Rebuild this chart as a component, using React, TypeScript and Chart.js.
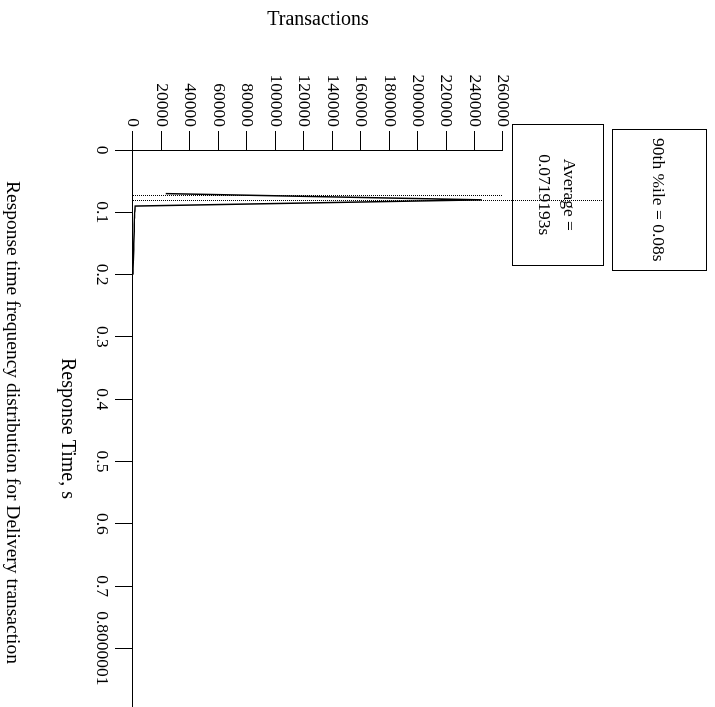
import React, { useEffect, useRef } from "react";
import { Chart, registerables } from "chart.js";

Chart.register(...registerables);

// ---- data ----
const responseTimes = [0.07, 0.08, 0.09, 0.1, 0.11, 0.12, 0.13, 0.14, 0.15, 0.16, 0.17, 0.18, 0.19, 0.2];
const transactionCounts = [23000, 245000, 1500, 1200, 1000, 900, 800, 700, 600, 500, 300, 150, 80, 30];

const xTickValues = [0, 0.1, 0.2, 0.3, 0.4, 0.5, 0.6, 0.7, 0.8];
const xTickLabels = ["0", "0.1", "0.2", "0.3", "0.4", "0.5", "0.6", "0.7", "0.8000001"];
const yTickValues = [0, 20000, 40000, 60000, 80000, 100000, 120000, 140000, 160000, 180000, 200000, 220000, 240000, 260000];
const yTickLabels = ["0", "20000", "40000", "60000", "80000", "100000", "120000", "140000", "160000", "180000", "200000", "220000", "240000", "260000"];

const averageTime = 0.0719193;
const percentile90Time = 0.08;
const averageLines = ["Average =", "0.0719193s"];
const percentileLines = ["90th %ile = 0.08s"];

const chartTitle = "Response time frequency distribution for Delivery transaction";
const xAxisTitle = "Response Time, s";
const yAxisTitle = "Transactions";

// ---- layout (unrotated canvas; it is rotated 90deg clockwise on the page) ----
const CANVAS_W = 707;
const CANVAS_H = 715;
const FAMILY = "'Liberation Serif', 'Times New Roman', serif";
const TICK_SIZE = 17.5;
const TITLE_SIZE = 20;
const MAIN_TITLE_SIZE = 19.5;

const annotationPlugin = {
  id: "rtAnnotations",
  afterDatasetsDraw(chart: any) {
    const ctx = chart.ctx;
    const xs = chart.scales.x;
    const ys = chart.scales.y;
    const top = chart.chartArea.top;
    const y0 = ys.getPixelForValue(0);
    const yMax = ys.getPixelForValue(yTickValues[yTickValues.length - 1]);

    ctx.save();
    ctx.strokeStyle = "#000";
    ctx.lineWidth = 1;
    ctx.setLineDash([1, 1]);

    const ax = Math.round(xs.getPixelForValue(averageTime)) + 0.5;
    ctx.beginPath();
    ctx.moveTo(ax, y0);
    ctx.lineTo(ax, yMax);
    ctx.stroke();

    const px = Math.round(xs.getPixelForValue(percentile90Time)) + 0.5;
    ctx.beginPath();
    ctx.moveTo(px, y0);
    ctx.lineTo(px, top - 101);
    ctx.stroke();
    ctx.setLineDash([]);

    const drawBox = (cx: number, bTop: number, bBottom: number, lines: string[], baselines: number[]) => {
      const w = 141;
      const left = Math.round(cx - w / 2) + 0.5;
      ctx.strokeStyle = "#000";
      ctx.lineWidth = 1;
      ctx.strokeRect(left, Math.round(bTop) + 0.5, w, Math.round(bBottom - bTop));
      ctx.fillStyle = "#000";
      ctx.font = `${TICK_SIZE}px ${FAMILY}`;
      ctx.textAlign = "center";
      ctx.textBaseline = "alphabetic";
      lines.forEach((t, i) => ctx.fillText(t, cx, bTop + baselines[i]));
    };

    drawBox(xs.getPixelForValue(averageTime), top - 101, top - 10, averageLines, [40, 65]);
    drawBox(xs.getPixelForValue(percentile90Time), top - 204, top - 110, percentileLines, [54]);

    // main chart title (centred slightly left of the plot centre, at the bottom of the unrotated canvas)
    ctx.font = `${MAIN_TITLE_SIZE}px ${FAMILY}`;
    ctx.textAlign = "center";
    ctx.textBaseline = "middle";
    ctx.fillStyle = "#000";
    ctx.fillText(chartTitle, (chart.chartArea.left + chart.chartArea.right) / 2 - 6, chart.height - 12);

    ctx.restore();
  },
};

export default function App() {
  const canvasRef = useRef<HTMLCanvasElement | null>(null);

  useEffect(() => {
    const canvas = canvasRef.current;
    if (!canvas) return;
    const tickFont = { family: FAMILY, size: TICK_SIZE, weight: "normal" as const };
    const titleFont = { family: FAMILY, size: TITLE_SIZE, weight: "normal" as const };

    const chart = new Chart(canvas, {
      type: "line",
      data: {
        datasets: [
          {
            data: responseTimes.map((t, i) => ({ x: t, y: transactionCounts[i] })),
            borderColor: "#000",
            borderWidth: 1.5,
            pointRadius: 0,
            fill: false,
            tension: 0,
          },
        ],
      },
      options: {
        responsive: false,
        animation: false,
        devicePixelRatio: 1,
        layout: { padding: { top: 212, left: 0, right: 0, bottom: 24 } },
        plugins: {
          legend: { display: false },
          tooltip: { enabled: false },
          title: { display: false },
        },
        scales: {
          x: {
            type: "linear",
            min: 0,
            max: 0.894,
            afterBuildTicks: (s: any) => {
              s.ticks = xTickValues.map((v) => ({ value: v }));
            },
            afterFit: (s: any) => {
              s.height = 109;
              s.paddingLeft = 0;
              s.paddingRight = 0;
            },
            ticks: {
              callback: (_v: any, i: number) => xTickLabels[i],
              color: "#000",
              font: tickFont,
              padding: 3,
              maxRotation: 0,
              minRotation: 0,
              autoSkip: false,
            },
            grid: { drawOnChartArea: false, drawTicks: true, tickLength: 18, color: "#000", lineWidth: 1 },
            border: { display: true, color: "#000", width: 1 },
            title: {
              display: true,
              text: xAxisTitle,
              color: "#000",
              font: titleFont,
              padding: { top: 0, bottom: 31 },
            },
          },
          y: {
            type: "linear",
            min: 0,
            max: 260000,
            afterBuildTicks: (s: any) => {
              s.ticks = yTickValues.map((v) => ({ value: v }));
            },
            afterFit: (s: any) => {
              s.width = 150;
              s.paddingTop = 0;
              s.paddingBottom = 0;
            },
            ticks: {
              callback: (_v: any, i: number) => yTickLabels[i],
              color: "#000",
              font: tickFont,
              padding: 4,
              autoSkip: false,
            },
            grid: { drawOnChartArea: false, drawTicks: true, tickLength: 19, color: "#000", lineWidth: 1 },
            border: { display: true, color: "#000", width: 1 },
            title: {
              display: true,
              text: yAxisTitle,
              color: "#000",
              font: titleFont,
              padding: { top: 8, bottom: 0 },
            },
          },
        },
      } as any,
      plugins: [annotationPlugin],
    });

    return () => chart.destroy();
  }, []);

  return (
    <div
      style={{
        position: "fixed",
        left: 0,
        top: 0,
        width: 715,
        height: 707,
        overflow: "hidden",
        background: "#fff",
      }}
    >
      <canvas
        ref={canvasRef}
        width={CANVAS_W}
        height={CANVAS_H}
        style={{
          position: "absolute",
          left: 0,
          top: 0,
          width: CANVAS_W,
          height: CANVAS_H,
          transformOrigin: "0 0",
          transform: "translate(715px, 0px) rotate(90deg)",
        }}
      />
    </div>
  );
}
